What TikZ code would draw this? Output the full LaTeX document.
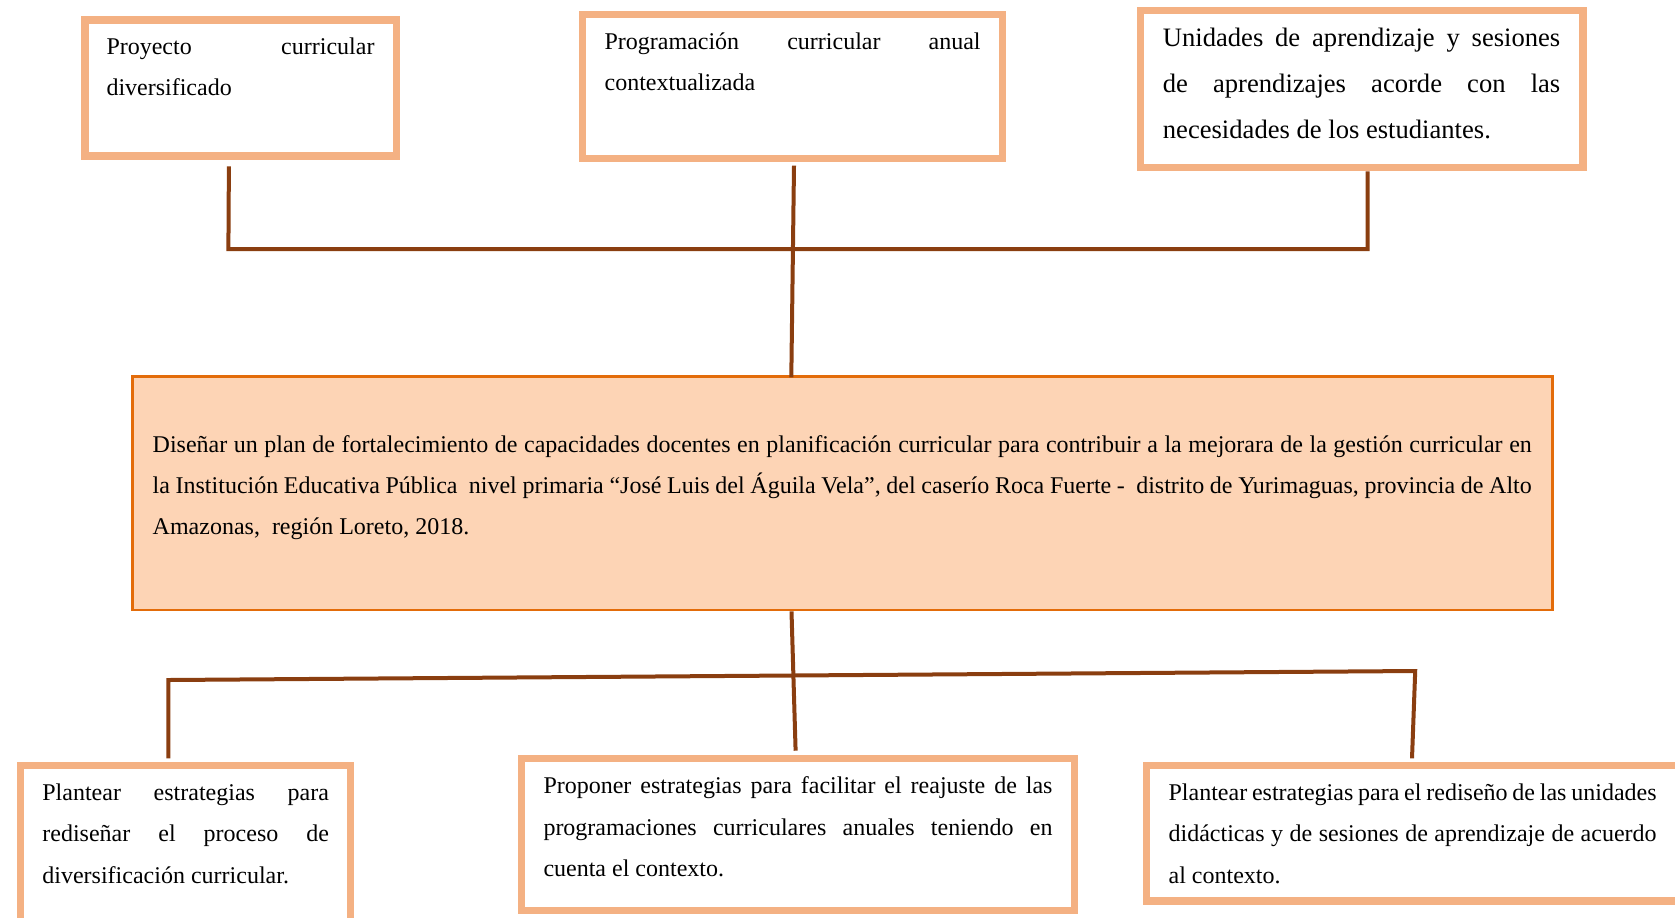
\documentclass[tikz,border=0pt]{standalone}
\usepackage{fontspec}
\setmainfont{Liberation Serif}

\definecolor{bordeclaro}{HTML}{F4B183}
\definecolor{bordeplan}{HTML}{E36C0A}
\definecolor{rellenoplan}{HTML}{FDD4B5}
\definecolor{marron}{HTML}{8A3E10}

\newcommand{\espacios}{\spaceskip=0.25em plus 1em minus 0.1em\relax}
\newcommand{\textocaja}[4]{\parbox[c][#1][t]{#2}{\rule{0pt}{#3}#4}}

\tikzset{
  caja/.style={draw=bordeclaro, line width=3.6pt, fill=white, anchor=north west,
    inner ysep=0pt, font=\fontsize{12}{20.7}\selectfont\espacios},
  cajaplan/.style={caja, draw=bordeplan, line width=1.4pt, fill=rellenoplan},
  conector/.style={draw=marron, line width=2pt},
}

\begin{document}
\begin{tikzpicture}[x=0.5pt,y=-0.5pt]
\useasboundingbox (0,0) rectangle (1675,917);
\clip (0,0) rectangle (1675,917);

\node[caja, inner xsep=10.8pt] (proyecto) at (81.3,16.3)
  {\textocaja{68pt}{134pt}{17.2pt}{Proyecto curricular\linebreak diversificado}};

\node[caja, inner xsep=11pt] (programacion) at (579,11.2)
  {\textocaja{72pt}{188pt}{17.25pt}{Programación curricular anual\linebreak contextualizada}};

\node[caja, inner xsep=11.35pt, font=\fontsize{13.3}{22.9}\selectfont\espacios] (unidades) at (1136.6,6.7)
  {\textocaja{78.75pt}{198.7pt}{18.3pt}{Unidades de aprendizaje y sesiones\linebreak de aprendizajes acorde con las\linebreak necesidades de los estudiantes.}};

\node[cajaplan, inner xsep=10.3pt] (plan) at (130.7,375.4)
  {\textocaja{116.6pt}{689.5pt}{37.6pt}{Diseñar un plan de fortalecimiento de capacidades docentes en planificación curricular para contribuir a la mejorara de la gestión curricular en\linebreak la Institución Educativa Pública\ \ nivel primaria “José Luis del Águila Vela”, del caserío Roca Fuerte -\ \ distrito de Yurimaguas, provincia de Alto\linebreak Amazonas,\ \ región Loreto, 2018.}};

\node[caja, inner xsep=10.9pt] (plantearA) at (17,762)
  {\textocaja{84pt}{143.3pt}{17.35pt}{Plantear estrategias para\linebreak rediseñar el proceso de\linebreak diversificación curricular.}};

\node[caja, inner xsep=10.95pt] (proponer) at (518,755)
  {\textocaja{76pt}{254.5pt}{17.5pt}{Proponer estrategias para facilitar el reajuste de las\linebreak programaciones curriculares anuales teniendo en\linebreak cuenta el contexto.}};

\node[caja, inner xsep=11pt] (plantearB) at (1143,762)
  {\textocaja{67.65pt}{244pt}{17.35pt}{Plantear estrategias para el rediseño de las unidades\linebreak didácticas y de sesiones de aprendizaje de acuerdo\linebreak al contexto.}};

\coordinate (esqA) at (228.4,249);
\coordinate (esqB) at (1367.5,249);
\coordinate (esqC) at (168.4,680);
\coordinate (esqD) at (1415.2,671);

\draw[conector] ([xshift=-5.8pt,yshift=-3.4pt]proyecto.south) -- (esqA) -- (esqB) -- (esqB |- unidades.south);
\draw[conector] ([xshift=0.7pt,yshift=-1.6pt]programacion.south) -- ([xshift=-0.65pt,yshift=-1pt]programacion.south |- plan.north);

\draw[conector] ([xshift=-25.35pt]plan.south) -- ([xshift=-1.2pt,yshift=2.15pt]proponer.north);
\draw[conector] ([yshift=1.8pt]esqC |- plantearA.north) -- (esqC) -- (esqD) -- ([xshift=-1.6pt,yshift=1.8pt]esqD |- plantearB.north);
\end{tikzpicture}
\end{document}
